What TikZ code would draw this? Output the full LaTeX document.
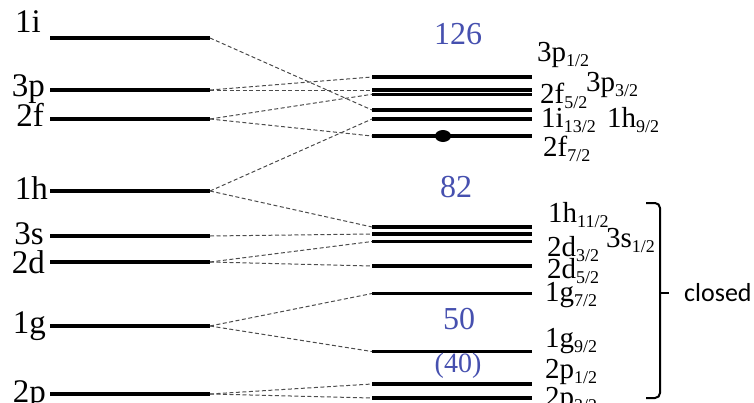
\documentclass[tikz,border=0pt]{standalone}
\usepackage{fontspec}
\setmainfont{Liberation Serif}
\newfontfamily\calibri{Carlito}
\usetikzlibrary{shapes.geometric}
\definecolor{magic}{RGB}{70,80,175}
\newcommand{\nlj}[2]{#1\raisebox{-5.5pt}{\fontsize{18}{18}\selectfont #2}}

\begin{document}
\begin{tikzpicture}[x=1pt,y=-1pt,
 level/.style={line width=3.1pt},
 link/.style={dash pattern=on 4pt off 2.5pt,line width=1pt,black!70},
 lab/.style={anchor=base east,inner sep=0pt,font=\fontsize{33}{33}\selectfont},
 rlab/.style={anchor=base west,inner sep=0pt,font=\fontsize{29}{29}\selectfont},
 num/.style={inner sep=0pt,text=magic,font=\fontsize{32}{32}\selectfont},
 dot/.style={ellipse,fill,inner sep=0pt,minimum width=16pt,minimum height=12pt},
 brace/.style={line width=2pt,rounded corners=5pt}]
\useasboundingbox (0,0) rectangle (754,402);
\foreach \n/\y in {1i/38,3p/90,2f/119,1h/191,3s/236,2d/262,1g/326,2p/394}
 \draw[level] (50,\y) coordinate (\n-a) -- (210,\y) coordinate (\n-b);
\foreach \n/\y in {3p1/77,3p3/90,2f5/94.3,1i13/110,1h9/119,2f7/136,1h11/227,3s1/234,2d3/241.5,2d5/266,1g7/293.5,1g9/351.5,2p1/384,2p3/398}
 \draw[level] (372,\y) coordinate (\n-a) -- (532,\y) coordinate (\n-b);
\foreach \a/\b in {1i/1i13,3p/3p1,3p/3p3,2f/2f5,2f/2f7,1h/1h9,1h/1h11,3s/3s1,2d/2d3,2d/2d5,1g/1g7,1g/1g9,2p/2p1,2p/2p3}
 \draw[link] (\a-b) -- (\b-a);
\node[lab] (t1i) at (41,32) {1i};
\node[lab] (t3p) at (45,96) {3p};
\node[lab] (t2f) at (44,126) {2f};
\node[lab] (t1h) at (48,199) {1h};
\node[lab] (t3s) at (44,244) {3s};
\node[lab] (t2d) at (45,273) {2d};
\node[lab] (t1g) at (46,333) {1g};
\node[lab] (t2p) at (46,402) {2p};
\node[rlab] (n3p1) at (537,61) {\nlj{3p}{1/2}};
\node[rlab] (n3p3) at (586,91) {\nlj{3p}{3/2}};
\node[rlab] (n2f5) at (540,103) {\nlj{2f}{5/2}};
\node[rlab] (n1i13) at (541,127) {\nlj{1i}{13/2}};
\node[rlab] (n1h9) at (607,127) {\nlj{1h}{9/2}};
\node[rlab] (n2f7) at (543,156) {\nlj{2f}{7/2}};
\node[rlab] (n1h11) at (548,222) {\nlj{1h}{11/2}};
\node[rlab] (n3s1) at (606,247) {\nlj{3s}{1/2}};
\node[rlab] (n2d3) at (547,256) {\nlj{2d}{3/2}};
\node[rlab] (n2d5) at (547,278) {\nlj{2d}{5/2}};
\node[rlab] (n1g7) at (545,301) {\nlj{1g}{7/2}};
\node[rlab] (n1g9) at (545,347) {\nlj{1g}{9/2}};
\node[rlab] (n2p1) at (545,378) {\nlj{2p}{1/2}};
\node[rlab] (n2p3) at (545,406) {\nlj{2p}{3/2}};
\node[num] (m126) at (458,34) {126};
\node[num] (m82) at (456,187) {82};
\node[num] (m50) at (459,319) {50};
\node[num,font=\fontsize{28}{28}\selectfont] (m40) at (458,366) {(40)};
\node[dot] (d) at (443,136) {};
\node[anchor=west,inner sep=0pt,font=\calibri\fontsize{26}{26}\selectfont] (closed) at (684,293) {closed};
\draw[brace] (646,203) -| (660,398) -- (646,398);
\draw[line width=2pt] (660,293) -- (669,293);
\end{tikzpicture}
\end{document}
